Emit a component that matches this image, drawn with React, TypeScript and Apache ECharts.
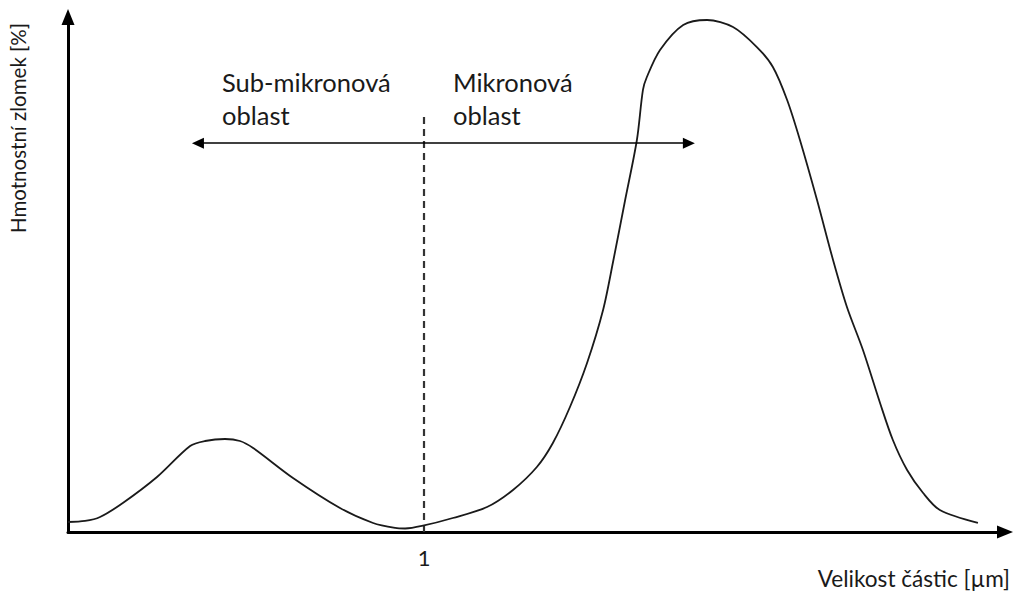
import React, { useEffect, useRef } from "react";
import * as echarts from "echarts";

// Particle-size distribution (relative units on x, 1 = 1 µm marker)
const sizeX = [
  0, 0.048, 0.09, 0.154, 0.25, 0.343, 0.385, 0.441, 0.483, 0.52, 0.632, 0.764, 0.857, 0.919, 0.947,
  0.994, 1.081, 1.177, 1.25, 1.317, 1.362, 1.41, 1.458, 1.503, 1.531, 1.565, 1.598, 1.615, 1.626,
  1.663, 1.728, 1.795, 1.868, 1.935, 1.98, 2.02, 2.056, 2.104, 2.149, 2.188, 2.233, 2.281, 2.317,
  2.357, 2.402, 2.449, 2.556,
];
const massFraction = [
  1.94, 2.14, 2.91, 5.63, 10.68, 16.7, 17.67, 18.06, 17.67, 16.31, 10.49, 4.66, 1.75, 0.78, 0.68,
  1.17, 2.72, 4.85, 8.16, 12.62, 17.28, 24.27, 32.82, 43.11, 52.43, 64.47, 76.12, 85.83, 88.35,
  93.59, 98.45, 99.42, 98.06, 94.17, 90.29, 83.88, 76.12, 64.47, 52.82, 43.69, 35.34, 25.05, 17.86,
  12.04, 7.57, 4.27, 1.75,
];
const xTickLabels = ["1"];
const boundaryX = 1;
const boundaryTop = 80.6;
const rangeArrow = { from: 0.365, to: 1.744, y: 75.5 };
const xRange = { min: 0, max: 2.632 };
const yRange = { min: 0, max: 100 };
const labels = {
  xName: "Velikost částic [µm]",
  yName: "Hmotnostní zlomek [%]",
  left: "Sub-mikronová\noblast",
  right: "Mikronová\noblast",
};

const FONT = "Lato, 'Open Sans', sans-serif";
const INK = "#1a1a1a";

export default function App() {
  const ref = useRef<HTMLDivElement>(null);
  useEffect(() => {
    if (!ref.current) return;
    const chart = echarts.init(ref.current, null, { renderer: "svg" });
    const curve = sizeX.map((x, i) => [x, massFraction[i]]);
    chart.setOption({
      animation: false,
      backgroundColor: "#ffffff",
      grid: { left: 68, right: 9, top: 17, bottom: 60, outerBoundsMode: "none" },
      xAxis: {
        type: "value",
        min: xRange.min,
        max: xRange.max,
        interval: 1,
        splitLine: { show: false },
        axisTick: { show: false },
        axisLine: {
          show: true,
          onZero: false,
          symbol: ["none", "triangle"],
          symbolSize: [13, 16],
          lineStyle: { color: "#000", width: 3 },
        },
        axisLabel: {
          margin: 14,
          fontFamily: FONT,
          fontSize: 22,
          color: INK,
          showMinLabel: true,
          showMaxLabel: false,
          formatter: (v: number) => (xTickLabels.includes(String(v)) ? String(v) : ""),
        },
      },
      yAxis: {
        type: "value",
        min: yRange.min,
        max: yRange.max,
        splitLine: { show: false },
        axisTick: { show: false },
        axisLabel: { show: false },
        axisLine: {
          show: true,
          onZero: false,
          symbol: ["none", "triangle"],
          symbolSize: [13, 16],
          lineStyle: { color: "#000", width: 3 },
        },
      },
      series: [
        {
          type: "line",
          data: curve,
          showSymbol: false,
          smooth: 0.3,
          lineStyle: { color: INK, width: 1.8 },
          z: 3,
        },
        {
          type: "line",
          data: [
            [boundaryX, 0],
            [boundaryX, boundaryTop],
          ],
          showSymbol: false,
          lineStyle: { color: "#333", width: 2.2, type: [7, 5] },
          markLine: {
            silent: true,
            symbol: ["triangle", "triangle"],
            symbolSize: [11, 12],
            label: { show: false },
            lineStyle: { color: "#000", width: 1.6, type: "solid" },
            emphasis: { disabled: true },
            data: [
              [
                { coord: [rangeArrow.from, rangeArrow.y] },
                { coord: [rangeArrow.to, rangeArrow.y] },
              ],
            ],
          },
          z: 2,
        },
      ],
      graphic: [
        {
          type: "text",
          x: 1010,
          y: 578,
          style: {
            text: labels.xName,
            align: "right",
            verticalAlign: "middle",
            fontFamily: FONT,
            fontSize: 22.6,
            fill: INK,
          },
        },
        {
          type: "text",
          x: 18,
          y: 128,
          rotation: Math.PI / 2,
          style: {
            text: labels.yName,
            align: "center",
            verticalAlign: "middle",
            fontFamily: FONT,
            fontSize: 20.5,
            fill: INK,
          },
        },
        {
          type: "text",
          x: 222,
          y: 65,
          style: {
            text: labels.left,
            align: "left",
            verticalAlign: "top",
            lineHeight: 33,
            fontFamily: FONT,
            fontSize: 25.5,
            fill: INK,
          },
        },
        {
          type: "text",
          x: 453,
          y: 65,
          style: {
            text: labels.right,
            align: "left",
            verticalAlign: "top",
            lineHeight: 33,
            fontFamily: FONT,
            fontSize: 25.5,
            fill: INK,
          },
        },
      ],
    });
    return () => chart.dispose();
  }, []);
  return (
    <div
      ref={ref}
      style={{ position: "absolute", left: 0, top: 0, width: 1014, height: 592 }}
    />
  );
}
